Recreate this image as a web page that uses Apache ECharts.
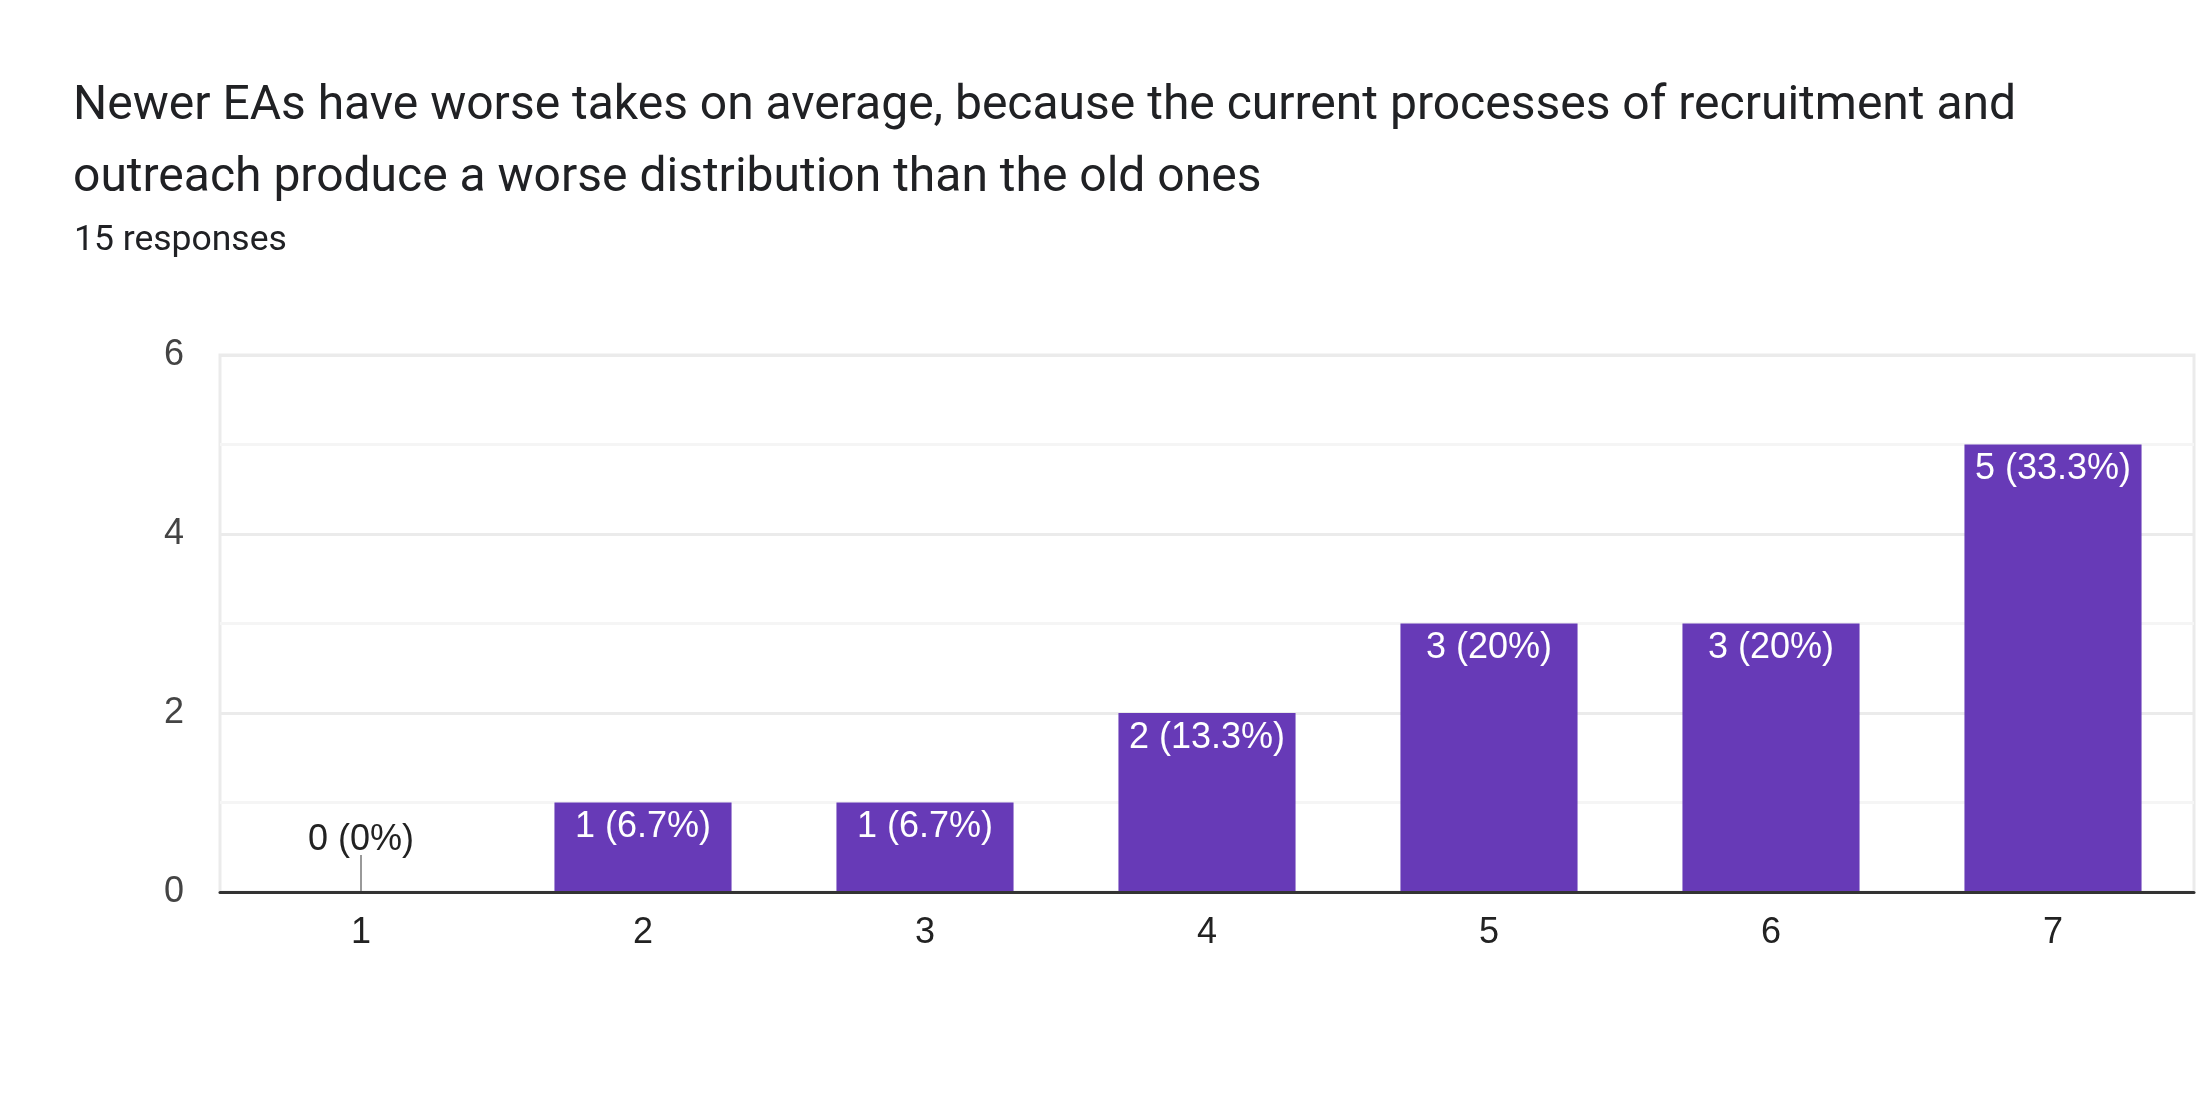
<!DOCTYPE html>
<html>
<head>
<meta charset="utf-8">
<script src="https://cdn.jsdelivr.net/npm/echarts@6/dist/echarts.min.js"></script>
<style>
  html, body { margin: 0; padding: 0; background: #ffffff; }
  #chart { width: 2196px; height: 1116px; }
</style>
</head>
<body>
<div id="chart"></div>
<script>
const titleLines = [
  'Newer EAs have worse takes on average, because the current processes of recruitment and',
  'outreach produce a worse distribution than the old ones'
];
const subtitle = '15 responses';
const categories = ['1', '2', '3', '4', '5', '6', '7'];
const counts = [0, 1, 1, 2, 3, 3, 5];
const percentLabels = ['0%', '6.7%', '6.7%', '13.3%', '20%', '20%', '33.3%'];
const yTicks = [0, 2, 4, 6];

const labelFont = '"Liberation Sans", Arial, sans-serif';

const barData = counts.map((v, i) => {
  const item = { value: v };
  if (v === 0) {
    item.label = { position: 'top', color: '#222222', distance: 34 };
  }
  return item;
});

const stemData = counts.map((v, i) => [i, v]).filter(d => d[1] === 0);

const chart = echarts.init(document.getElementById('chart'), null, { renderer: 'canvas' });
chart.setOption({
  backgroundColor: '#ffffff',
  animation: false,
  title: [
    {
      text: titleLines.join('\n'),
      left: 68,
      top: 66,
      textStyle: {
        fontFamily: 'Roboto, sans-serif',
        fontWeight: 'normal',
        fontSize: 48,
        lineHeight: 72,
        color: '#202124'
      }
    },
    {
      text: subtitle,
      left: 69,
      top: 216,
      textStyle: {
        fontFamily: 'Roboto, sans-serif',
        fontWeight: 'normal',
        fontSize: 35.5,
        lineHeight: 40,
        color: '#202124'
      }
    }
  ],
  grid: {
    left: 220,
    right: 2,
    top: 355,
    bottom: 224,
    show: true,
    borderColor: '#ebebeb',
    borderWidth: 3,
    backgroundColor: 'transparent'
  },
  xAxis: {
    type: 'category',
    data: categories,
    axisTick: { show: false },
    axisLine: { show: true, lineStyle: { color: '#333333', width: 3 } },
    axisLabel: {
      color: '#222222',
      fontFamily: labelFont,
      fontSize: 36,
      margin: 23
    },
    splitLine: { show: false },
    z: 5
  },
  yAxis: {
    type: 'value',
    min: yTicks[0],
    max: yTicks[yTicks.length - 1],
    interval: yTicks[1] - yTicks[0],
    axisLine: { show: false },
    axisTick: { show: false },
    axisLabel: {
      color: '#444444',
      fontFamily: labelFont,
      fontSize: 36,
      margin: 36
    },
    splitLine: { show: true, lineStyle: { color: '#ebebeb', width: 3 } },
    minorTick: { show: false, splitNumber: 2 },
    minorSplitLine: { show: true, lineStyle: { color: '#f5f5f5', width: 3 } }
  },
  series: [
    {
      type: 'bar',
      data: barData,
      barCategoryGap: '37.2%',
      itemStyle: { color: '#673ab7' },
      label: {
        show: true,
        position: 'insideTop',
        distance: 7,
        color: '#ffffff',
        fontFamily: labelFont,
        fontSize: 36,
        lineHeight: 36,
        formatter: p => p.value + ' (' + percentLabels[p.dataIndex] + ')'
      },
      z: 2
    },
    {
      type: 'custom',
      data: stemData,
      renderItem: (params, api) => {
        const p = api.coord([api.value(0), api.value(1)]);
        return {
          type: 'line',
          shape: { x1: p[0], y1: p[1] - 1, x2: p[0], y2: p[1] - 37 },
          style: { stroke: '#999999', lineWidth: 2 }
        };
      },
      z: 3,
      silent: true
    }
  ]
});
</script>
</body>
</html>
